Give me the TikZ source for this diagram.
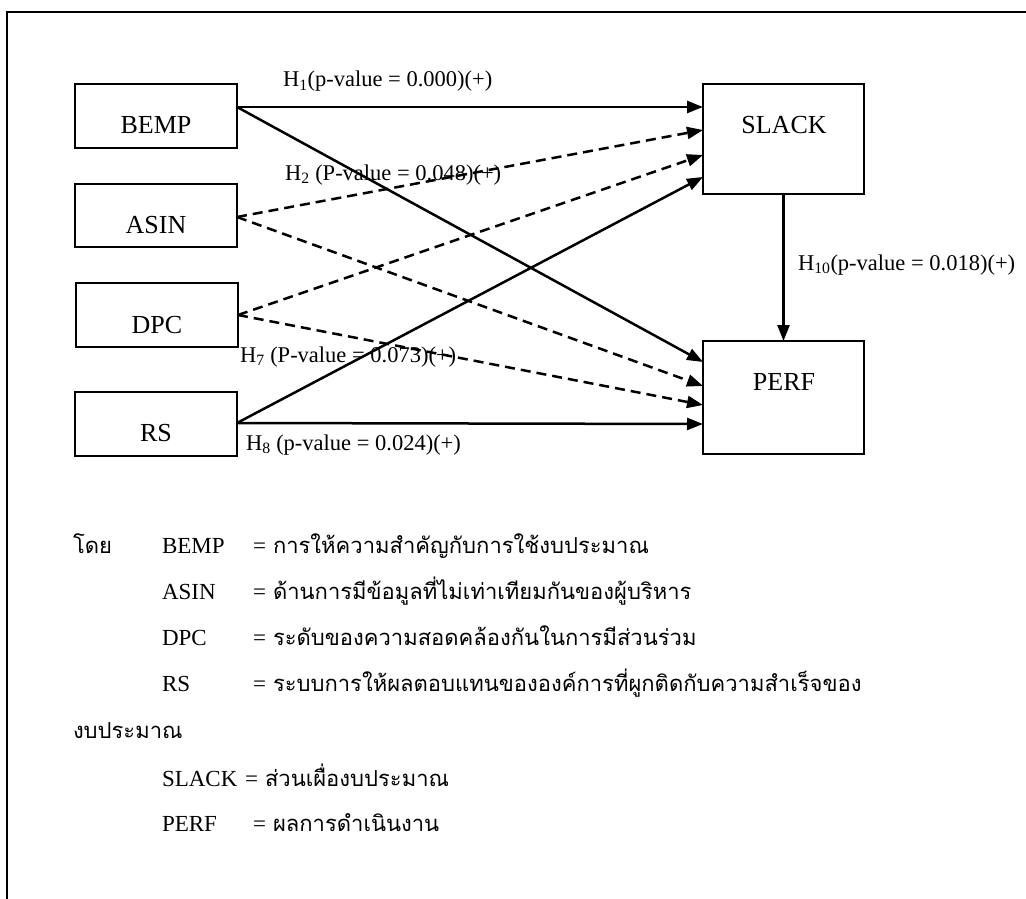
\documentclass[tikz,border=0pt]{standalone}
\usepackage{fontspec}
\setmainfont{Liberation Serif}
\newfontfamily\thaifont[Script=Thai]{Loma}
\usetikzlibrary{arrows.meta}
\begin{document}
\begin{tikzpicture}[x=1pt,y=-1pt,
  every node/.style={inner sep=0pt, outer sep=0pt},
  box/.style={draw, line width=2.8pt, rectangle, inner sep=0pt},
  boxtext/.style={font=\fontsize{26}{26}\selectfont},
  lbl/.style={font=\fontsize{22.5}{22.5}\selectfont, anchor=base west},
  leg/.style={font=\fontsize{23}{24}\selectfont, anchor=base west},
  th/.style={font=\thaifont\fontsize{22}{24}\selectfont, anchor=base west},
  conn/.style={line width=2.5pt, -{Triangle[length=16pt,width=12pt]}},
  dconn/.style={conn, dash pattern=on 10pt off 6pt},
]
\useasboundingbox (0,0) rectangle (1026,899);
% frame (open to the right and bottom)
\coordinate (fb) at (7,905);
\coordinate (ftl) at (7,12);
\coordinate (fr) at (1030,12);
\draw[line width=2.8pt] (fb) -- (ftl) -- (fr);

% boxes
\node[box, minimum width=162pt, minimum height=64pt] (bemp) at (156,116) {};
\node[box, minimum width=162pt, minimum height=63pt] (asin) at (156,215.5) {};
\node[box, minimum width=162pt, minimum height=64pt] (dpc) at (157,315) {};
\node[box, minimum width=162pt, minimum height=64pt] (rs) at (156,424) {};
\node[box, minimum width=161pt, minimum height=110pt] (slack) at (783.5,139) {};
\node[box, minimum width=161pt, minimum height=113pt] (perf) at (783.5,397.5) {};

\node[boxtext] (tbemp) at (156,125) {BEMP};
\node[boxtext] (tasin) at (156,225) {ASIN};
\node[boxtext] (tdpc) at (157,325) {DPC};
\node[boxtext] (trs) at (156,433) {RS};
\node[boxtext] (tslack) at (784,125) {SLACK};
\node[boxtext] (tperf) at (784,382) {PERF};

% connectors
\draw[conn] ([yshift=9pt]bemp.east) -- ([yshift=32pt]slack.west);
\draw[conn] ([yshift=9pt]bemp.east) -- ([yshift=35.5pt]perf.west);
\draw[dconn] ([yshift=-1.5pt]asin.east) -- ([yshift=9pt]slack.west);
\draw[dconn] ([yshift=-1.5pt]asin.east) -- ([yshift=11.5pt]perf.west);
\draw[dconn] (dpc.east) -- ([yshift=-16pt]slack.west);
\draw[dconn] (dpc.east) -- ([yshift=-7.5pt]perf.west);
\draw[conn] ([yshift=1pt]rs.east) -- ([yshift=-38pt]slack.west);
\draw[conn] ([yshift=1pt]rs.east) -- ([yshift=-26.5pt]perf.west);
\draw[conn] (slack.south) -- (perf.north);

% connector labels
\node[lbl] (h1) at (283,87) {H\textsubscript{1}(p-value = 0.000)(+)};
\node[lbl] (h2) at (285,180) {H\textsubscript{2} (P-value = 0.048)(+)};
\node[lbl] (h7) at (240,362) {H\textsubscript{7} (P-value = 0.073)(+)};
\node[lbl] (h8) at (246,450) {H\textsubscript{8} (p-value = 0.024)(+)};
\node[lbl] (h10) at (798,270) {H\textsubscript{10}(p-value = 0.018)(+)};

% legend
\node[th] (by) at (73,553) {โดย};
\node[leg] (l1) at (162,553) {BEMP};
\node[leg] (e1) at (253,553) {=};
\node[th] (d1) at (273,553) {การให้ความสำคัญกับการใช้งบประมาณ};
\node[leg] (l2) at (162,599) {ASIN};
\node[leg] (e2) at (253,599) {=};
\node[th] (d2) at (273,599) {ด้านการมีข้อมูลที่ไม่เท่าเทียมกันของผู้บริหาร};
\node[leg] (l3) at (162,645) {DPC};
\node[leg] (e3) at (253,645) {=};
\node[th] (d3) at (273,645) {ระดับของความสอดคล้องกันในการมีส่วนร่วม};
\node[leg] (l4) at (162,691) {RS};
\node[leg] (e4) at (253,691) {=};
\node[th] (d4) at (273,691) {ระบบการให้ผลตอบแทนขององค์การที่ผูกติดกับความสำเร็จของ};
\node[th] (d4b) at (73,738) {งบประมาณ};
\node[leg] (l5) at (162,786) {SLACK};
\node[leg] (e5) at (245,786) {=};
\node[th] (d5) at (265,786) {ส่วนเผื่องบประมาณ};
\node[leg] (l6) at (162,831) {PERF};
\node[leg] (e6) at (253,831) {=};
\node[th] (d6) at (273,831) {ผลการดำเนินงาน};
\end{tikzpicture}
\end{document}
